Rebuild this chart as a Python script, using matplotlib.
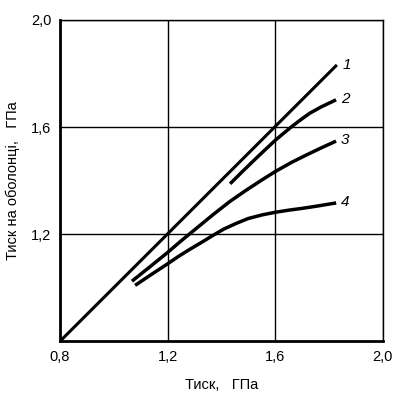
import numpy as np
import matplotlib
matplotlib.use("Agg")
import matplotlib.pyplot as plt

plt.rcParams['font.family'] = ['Liberation Sans', 'DejaVu Sans']

# curve data
x1 = [0.8, 1.825]
y1 = [0.8, 1.828]
x2 = [1.437, 1.48, 1.52, 1.56, 1.597, 1.63, 1.659, 1.69, 1.727, 1.77, 1.82]
y2 = [1.393, 1.436, 1.475, 1.513, 1.548, 1.576, 1.600, 1.624, 1.651, 1.675, 1.699]
x3 = [1.073, 1.14, 1.199, 1.25, 1.307, 1.37, 1.431, 1.49, 1.554, 1.6, 1.66, 1.72, 1.77, 1.82]
y3 = [1.029, 1.083, 1.131, 1.175, 1.222, 1.274, 1.322, 1.363, 1.405, 1.434, 1.468, 1.498, 1.522, 1.545]
x4 = [1.085, 1.14, 1.199, 1.24, 1.283, 1.33, 1.369, 1.41, 1.456, 1.50, 1.554, 1.60, 1.65, 1.702, 1.76, 1.82]
y4 = [1.013, 1.050, 1.089, 1.117, 1.144, 1.172, 1.196, 1.220, 1.241, 1.259, 1.273, 1.282, 1.290, 1.297, 1.306, 1.316]
curve_labels = ["1", "2", "3", "4"]

ticks = [0.8, 1.2, 1.6, 2.0]
tick_labels = ["0,8", "1,2", "1,6", "2,0"]

fig = plt.figure(figsize=(3.96, 3.98), dpi=100)
ax = fig.add_axes([0.151, 0.142, 0.816, 0.808])

ax.plot(x1, y1, color='black', lw=2.2)
ax.plot(x2, y2, color='black', lw=2.5)
ax.plot(x3, y3, color='black', lw=2.5)
ax.plot(x4, y4, color='black', lw=2.5)

ends = [(x1[-1], y1[-1]), (x2[-1], y2[-1]), (x3[-1], y3[-1]), (x4[-1], y4[-1])]
for (ex, ey), lab in zip(ends, curve_labels):
    ax.text(ex + 0.04, ey + 0.005, lab, fontsize=11, style='italic', va='center', ha='center')

ax.set_xlim(0.8, 2.0)
ax.set_ylim(0.8, 2.0)
ax.set_xticks(ticks)
ax.set_xticklabels(tick_labels)
ax.set_yticks(ticks[1:])
ax.set_yticklabels(tick_labels[1:])
ax.tick_params(length=0, labelsize=10.5, pad=6)
ax.grid(True, color='black', lw=1)

for side in ['top', 'right']:
    ax.spines[side].set_linewidth(1)
for side in ['left', 'bottom']:
    ax.spines[side].set_linewidth(2)

ax.set_xlabel("Тиск,   ГПа", fontsize=10.5, labelpad=10)
ax.set_ylabel("Тиск на оболонці,   ГПа", fontsize=10.5, labelpad=8)

fig.savefig("out.png", dpi=100)
